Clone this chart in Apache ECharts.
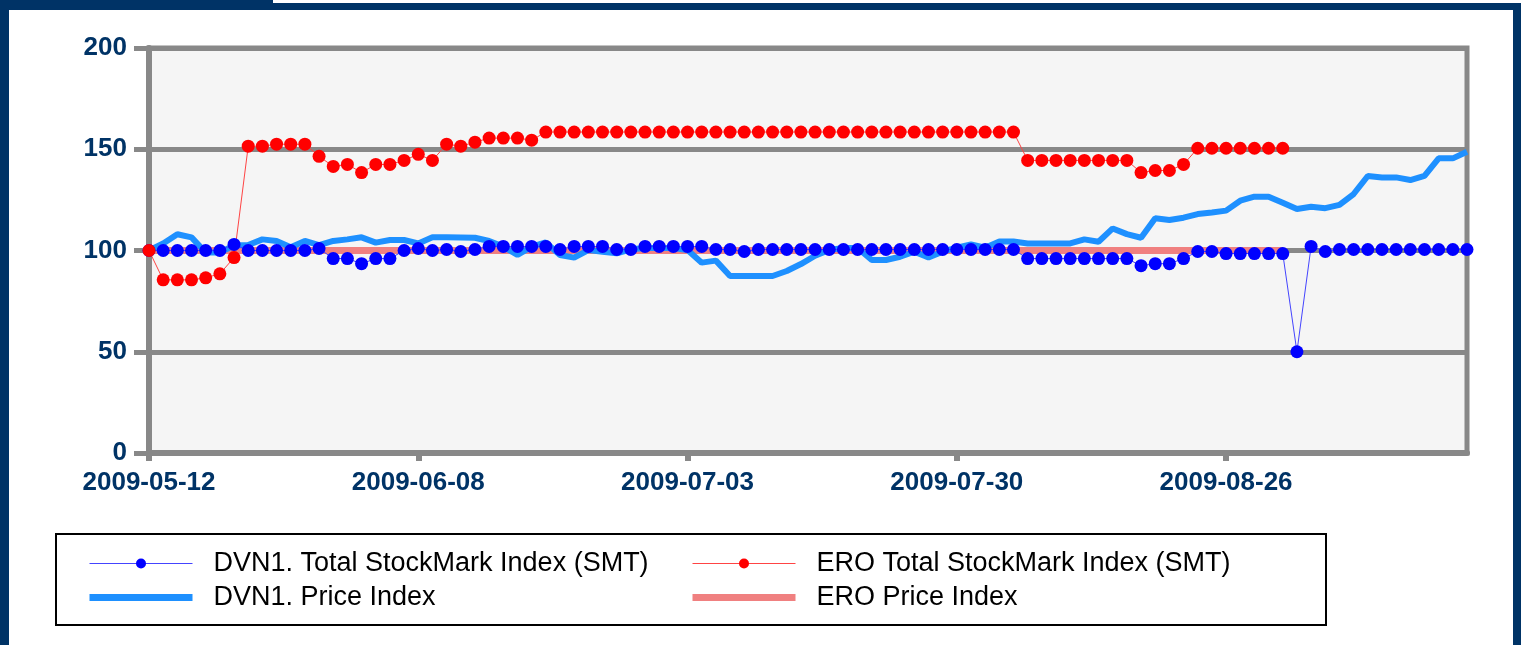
<!DOCTYPE html>
<html>
<head>
<meta charset="utf-8">
<title>Index chart</title>
<script src="https://cdn.jsdelivr.net/npm/echarts@6/dist/echarts.min.js"></script>
<style>
  html, body { margin: 0; padding: 0; background: #fff; }
  #chart { width: 1521px; height: 645px; }
</style>
</head>
<body>
<div id="chart"></div>
<script>
// trading days (Mon-Fri) starting 2009-05-12, 94 points
const categories = []
let day = new Date(Date.UTC(2009, 4, 12))
while (categories.length < 94) {
  const wd = day.getUTCDay()
  if (wd !== 0 && wd !== 6) categories.push(day.toISOString().slice(0, 10))
  day.setUTCDate(day.getUTCDate() + 1)
}

const yTicks = [0, 50, 100, 150, 200]

const dvnSmt = [
  100, 100, 100, 100, 100, 100, 103, 100, 100, 100,
  100, 100, 101, 96, 96, 93.5, 96, 96, 100, 101,
  100, 100.5, 99.5, 100.5, 102, 102, 102, 102, 102, 100.5,
  102, 102, 102, 100.5, 100.5, 102, 102, 102, 102, 102,
  100.5, 100.5, 99.5, 100.5, 100.5, 100.5, 100.5, 100.5, 100.5, 100.5,
  100.5, 100.5, 100.5, 100.5, 100.5, 100.5, 100.5, 100.5, 100.5, 100.5,
  100.5, 100.5, 96, 96, 96, 96, 96, 96, 96, 96,
  92.5, 93.5, 93.5, 96, 99.5, 99.5, 98.5, 98.5, 98.5, 98.5,
  98.5, 50, 102, 99.5, 100.5, 100.5, 100.5, 100.5, 100.5, 100.5,
  100.5, 100.5, 100.5, 100.5
]

const eroSmt = [
  100, 85.5, 85.5, 85.5, 86.5, 88.5, 96.5, 151.5, 151.5, 152.5,
  152.5, 152.5, 146.5, 141.5, 142.5, 138.5, 142.5, 142.5, 144.5, 147.5,
  144.5, 152.5, 151.5, 153.5, 155.5, 155.5, 155.5, 154.5, 158.5, 158.5,
  158.5, 158.5, 158.5, 158.5, 158.5, 158.5, 158.5, 158.5, 158.5, 158.5,
  158.5, 158.5, 158.5, 158.5, 158.5, 158.5, 158.5, 158.5, 158.5, 158.5,
  158.5, 158.5, 158.5, 158.5, 158.5, 158.5, 158.5, 158.5, 158.5, 158.5,
  158.5, 158.5, 144.5, 144.5, 144.5, 144.5, 144.5, 144.5, 144.5, 144.5,
  138.5, 139.5, 139.5, 142.5, 150.5, 150.5, 150.5, 150.5, 150.5, 150.5,
  150.5, null, null, null, null, null, null, null, null, null,
  null, null, null, null
]

const dvnPrice = [
  100, 103.5, 108, 106.5, 99, 99, 102.5, 102.7, 105.5, 104.7,
  101.6, 104.7, 102.7, 104.7, 105.5, 106.5, 103.9, 105.2, 105.2, 103.5,
  106.5, 106.5, 106.4, 106.3, 104.7, 101.9, 97.8, 101.9, 104, 97.8,
  96.5, 100.2, 99.4, 98.6, 100.6, 101.2, 101.2, 101.2, 100.2, 94,
  95, 87.4, 87.4, 87.4, 87.4, 89.9, 93.3, 97.4, 100.3, 101.2,
  101.2, 95.3, 95.3, 96.9, 99.4, 96.6, 99.4, 101.4, 103, 101.4,
  104.4, 104.4, 103.5, 103.5, 103.5, 103.5, 105.5, 104.3, 110.9, 108.1,
  106.3, 115.9, 115.1, 116.2, 118, 118.8, 119.7, 124.6, 126.6, 126.6,
  123.6, 120.5, 121.6, 120.9, 122.5, 127.9, 136.8, 136.1, 136.1, 134.8,
  136.8, 145.5, 145.5, 148.8
]

const eroPrice = [
  100, 100, 100, 100, 100, 100, 100, 100, 100, 100,
  100, 100, 100, 100, 100, 100, 100, 100, 100, 100,
  100, 100, 100, 100, 100, 100, 100, 100, 100, 100,
  100, 100, 100, 100, 100, 100, 100, 100, 100, 100,
  100, 100, 100, 100, 100, 100, 100, 100, 100, 100,
  100, 100, 100, 100, 100, 100, 100, 100, 100, 100,
  100, 100, 100, 100, 100, 100, 100, 100, 100, 100,
  100, 100, 100, 100, 100, 100, 100, 100, 100, 100,
  100, null, null, null, null, null, null, null, null, null,
  null, null, null, null
]

const NAVY = '#003366'
const FONT = 'Liberation Sans, Arial, sans-serif'

// one legend per entry so each sits exactly where the box expects it
function legendItem (name, left, top, lineWidth, hasDot) {
  const item = { name: name, lineStyle: { width: lineWidth } }
  if (!hasDot) item.itemStyle = { opacity: 0 }
  return {
    data: [item],
    left: left,
    top: top,
    padding: 0,
    itemWidth: 103,
    itemHeight: 12.5,
    selectedMode: false,
    textStyle: {
      fontFamily: FONT,
      fontSize: 27,
      lineHeight: 30,
      color: '#000',
      padding: [0, 0, 0, 16]
    }
  }
}

const chart = echarts.init(document.getElementById('chart'))
chart.setOption({
  animation: false,
  graphic: [
    { type: 'rect', shape: { x: 0, y: 0, width: 273, height: 10 }, style: { fill: NAVY } },
    { type: 'rect', shape: { x: 0, y: 3, width: 1521, height: 7 }, style: { fill: NAVY } },
    { type: 'rect', shape: { x: 0, y: 0, width: 9, height: 645 }, style: { fill: NAVY } },
    { type: 'rect', shape: { x: 1513, y: 3, width: 8, height: 642 }, style: { fill: NAVY } },
    // legend frame
    { type: 'rect', shape: { x: 56, y: 534, width: 1270, height: 91 },
      style: { fill: 'none', stroke: '#000', lineWidth: 2 } }
  ],
  legend: [
    legendItem('DVN1. Total StockMark Index (SMT)', 89, 548.5, 1, true),
    legendItem('DVN1. Price Index', 86, 582.5, 7, false),
    legendItem('ERO Total StockMark Index (SMT)', 692, 548.5, 1, true),
    legendItem('ERO Price Index', 689, 582.5, 7, false)
  ],
  grid: {
    left: 149,
    right: 54,
    top: 48,
    bottom: 192,
    show: true,
    backgroundColor: '#f5f5f5',
    borderColor: '#888',
    borderWidth: 5
  },
  xAxis: {
    type: 'category',
    data: categories,
    boundaryGap: false,
    axisLine: { lineStyle: { color: '#888', width: 6 } },
    axisTick: { show: true, interval: 18, length: 8, lineStyle: { color: '#888', width: 6 } },
    axisLabel: {
      interval: 18,
      margin: 17,
      color: NAVY,
      fontFamily: FONT,
      fontWeight: 'bold',
      fontSize: 26
    },
    splitLine: { show: false }
  },
  yAxis: {
    type: 'value',
    min: yTicks[0],
    max: yTicks[yTicks.length - 1],
    interval: 50,
    axisLine: { show: true, lineStyle: { color: '#888', width: 6 } },
    axisTick: { show: true, length: 15, lineStyle: { color: '#888', width: 5 } },
    axisLabel: {
      margin: 22,
      color: NAVY,
      fontFamily: FONT,
      fontWeight: 'bold',
      fontSize: 26
    },
    splitLine: { lineStyle: { color: '#888', width: 5 } }
  },
  series: [
    {
      name: 'ERO Price Index',
      type: 'line',
      data: eroPrice,
      symbol: 'none',
      lineStyle: { color: '#f08080', width: 7 },
      itemStyle: { color: '#f08080' }
    },
    {
      name: 'DVN1. Price Index',
      type: 'line',
      data: dvnPrice,
      symbol: 'none',
      lineStyle: { color: '#1e90ff', width: 6 },
      itemStyle: { color: '#1e90ff' }
    },
    {
      name: 'DVN1. Total StockMark Index (SMT)',
      type: 'line',
      data: dvnSmt,
      symbol: 'circle',
      symbolSize: 13,
      showAllSymbol: true,
      lineStyle: { color: '#4444ff', width: 1 },
      itemStyle: { color: '#0000ff' }
    },
    {
      name: 'ERO Total StockMark Index (SMT)',
      type: 'line',
      data: eroSmt,
      symbol: 'circle',
      symbolSize: 13,
      showAllSymbol: true,
      lineStyle: { color: '#ff4444', width: 1 },
      itemStyle: { color: '#ff0000' }
    }
  ]
})
</script>
</body>
</html>
